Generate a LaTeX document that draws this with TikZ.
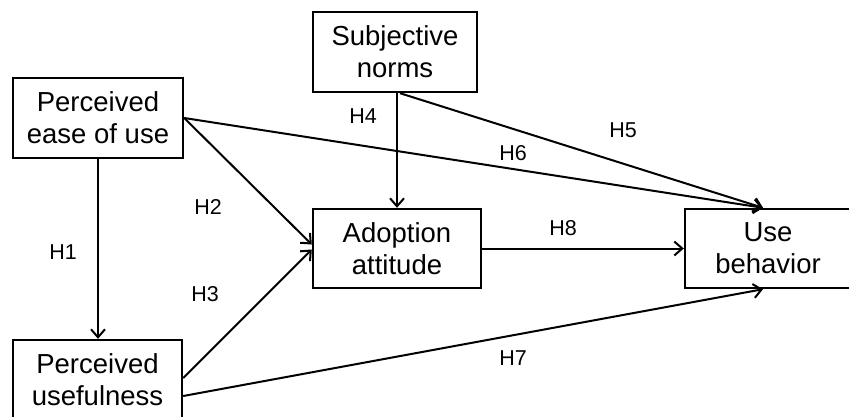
\documentclass[tikz,border=0pt]{standalone}
\usepackage{fontspec}
\setmainfont{Liberation Sans}
\usetikzlibrary{arrows.meta}
\begin{document}
\begin{tikzpicture}[x=1pt,y=-1pt,
  box/.style={draw=black,line width=2.4pt,fill=white,align=center,inner sep=0pt,
    font=\fontsize{27.5}{32}\selectfont},
  conn/.style={line width=2pt,-{Straight Barb[length=8pt,width=14pt,line width=2pt]}},
  lab/.style={font=\fontsize{21.5}{25}\selectfont,inner sep=0pt}]
\clip (0,0) rectangle (849,416);
\fill[white] (0,0) rectangle (849,416);
\node[box,minimum width=170pt,minimum height=80pt] (ease) at (98,118) {Perceived\\ease of use};
\node[box,minimum width=169pt,minimum height=80pt] (useful) at (97.5,380) {Perceived\\usefulness};
\node[box,minimum width=164pt,minimum height=80pt] (subj) at (395,52) {Subjective\\norms};
\node[box,minimum width=168pt,minimum height=79pt] (adopt) at (397,248.5) {Adoption\\attitude};
\node[box,minimum width=166pt,minimum height=79pt] (use) at (768,248.5) {Use\\behavior};

\draw[conn] (ease.south) -- (ease.south |- useful.north);
\draw[conn] (ease.east) -- ([yshift=4pt]adopt.west);
\draw[conn] ([yshift=2pt]useful.east) -- ([yshift=-1pt]adopt.west);
\draw[conn] (adopt.north |- subj.south) -- (adopt.north);
\draw[conn] ([xshift=5pt]subj.south) -- ([xshift=-5pt]use.north);
\draw[conn] (ease.east) -- ([xshift=-5pt]use.north);
\draw[conn] ([yshift=-16pt]useful.east) -- ([xshift=-5pt]use.south);
\draw[conn] (adopt.east) -- (use.west);

\node[lab] (h1) at (63,252) {H1};
\node[lab] (h2) at (208,207) {H2};
\node[lab] (h3) at (205,294) {H3};
\node[lab] (h4) at (363,116) {H4};
\node[lab] (h5) at (623,130) {H5};
\node[lab] (h6) at (513,153) {H6};
\node[lab] (h7) at (513,358) {H7};
\node[lab] (h8) at (563,228) {H8};
\end{tikzpicture}
\end{document}
